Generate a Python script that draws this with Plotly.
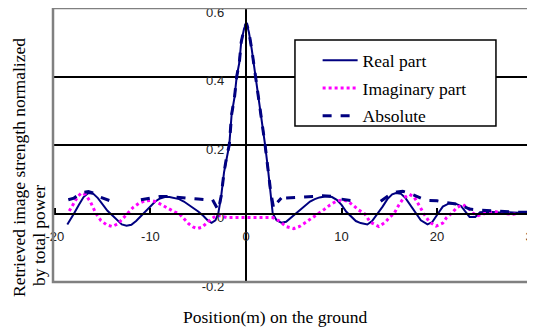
import plotly.graph_objects as go

# ---- data ----
real_x = [-18.7, -18.3, -18.0, -17.5, -17.0, -16.5, -16.0, -15.5, -15.0, -14.5, -14.0, -13.5, -13.0, -12.5,
          -12.0, -11.5, -11.0, -10.5, -10.0, -9.5, -9.0, -8.5, -8.0, -7.5, -7.0, -6.5, -6.0, -5.5, -5.0,
          -4.5, -4.0, -3.6, -3.2, -2.9, -2.6, -2.3, -2.0, -1.75, -1.5, -1.2, -0.97, -0.7, -0.5, -0.2,
          0.05, 0.3, 0.6, 0.85, 1.05, 1.3, 1.6, 2.0, 2.3, 2.6, 2.8, 3.2, 3.7, 4.2, 4.7, 5.2, 5.7, 6.2,
          6.7, 7.2, 7.7, 8.4, 9.0, 9.5, 10.0, 10.5, 11.0, 11.5, 12.0, 12.7, 13.2, 13.8, 14.3, 14.8, 15.3,
          15.7, 16.2, 16.7, 17.2, 17.8, 18.3, 19.0, 19.5, 20.1, 20.6, 21.3, 22.0, 22.5, 23.0, 23.4, 24.0,
          24.5, 25.5, 26.5, 27.5, 28.5, 29.5, 30.0]
real_y = [-0.032, -0.015, 0.0, 0.025, 0.048, 0.060, 0.058, 0.045, 0.025, 0.008, -0.005, -0.02, -0.032, -0.036,
          -0.033, -0.022, -0.008, 0.008, 0.022, 0.035, 0.044, 0.048, 0.048, 0.046, 0.042, 0.035, 0.026, 0.016, 0.006,
          -0.006, -0.02, -0.027, -0.02, 0.0, 0.05, 0.12, 0.17, 0.20, 0.29, 0.34, 0.40, 0.44, 0.50, 0.54,
          0.556, 0.53, 0.48, 0.43, 0.40, 0.34, 0.28, 0.20, 0.13, 0.06, 0.0, -0.02, -0.027, -0.024, -0.012, 0.0, 0.012, 0.025,
          0.035, 0.042, 0.047, 0.05, 0.048, 0.04, 0.025, 0.005, -0.01, -0.022, -0.028, -0.032, -0.022, 0.0, 0.02, 0.042, 0.056,
          0.06, 0.058, 0.045, 0.025, 0.0, -0.02, -0.032, -0.025, 0.0, 0.02, 0.03, 0.028, 0.022, 0.005, -0.01, -0.01,
          0.004, 0.005, 0.003, 0.004, 0.002, 0.003, 0.003]

imag_x = [-18.5, -18.0, -17.6, -17.2, -16.8, -16.3, -15.7, -15.2, -14.6, -14.0, -13.4, -12.9, -12.4, -11.8,
          -11.2, -10.6, -10.0, -9.5, -9.0, -8.5, -8.0, -7.5, -7.0, -6.5, -6.0, -5.5, -5.1, -4.6, -4.1, -3.6,
          -3.0, -2.5, -2.0, -1.0, 0.0, 1.0, 2.0, 2.8, 3.5, 4.2, 5.0, 5.6, 6.3, 7.0, 7.6, 8.2, 8.8, 9.4, 10.1,
          10.7, 11.3, 11.8, 12.4, 13.0, 13.9, 14.6, 15.0, 15.5, 16.0, 16.5, 17.1, 17.6, 18.1, 18.6, 19.2, 19.9,
          20.6, 21.0, 21.5, 22.1, 22.7, 23.3, 23.8, 24.3, 25.0, 26.0, 27.0, 28.0, 29.0, 30.0]
imag_y = [0.007, 0.03, 0.05, 0.06, 0.055, 0.035, 0.0, -0.02, -0.033, -0.038, -0.03, -0.015, 0.0, 0.018,
          0.03, 0.037, 0.038, 0.035, 0.028, 0.02, 0.012, 0.005, 0.0, -0.015, -0.03, -0.04, -0.044, -0.04, -0.028, -0.015,
          -0.005, -0.008, -0.012, -0.012, -0.012, -0.014, -0.012, -0.012, -0.022, -0.038, -0.044, -0.038, -0.025, -0.012, 0.0, 0.012, 0.025, 0.035, 0.04,
          0.035, 0.022, 0.01, 0.0, -0.025, -0.038, -0.025, -0.012, 0.0, 0.025, 0.045, 0.056, 0.048, 0.025, 0.0, -0.025, -0.037,
          -0.028, -0.012, 0.0, 0.018, 0.026, 0.015, 0.0, -0.006, 0.0, 0.006, 0.0, -0.002, 0.002, 0.0]

abs_x = [-18.6, -18.0, -17.5, -17.0, -16.5, -16.0, -15.5, -15.0, -14.5, -14.1, -12.5,
         -11.0, -10.5, -10.0, -9.0, -8.0, -7.5, -7.0, -6.0, -5.0, -4.2, -3.8,
         -3.5, -3.1, -2.9, -2.6, -2.3, -2.0, -1.75, -1.5, -1.2, -0.97, -0.7, -0.5, -0.2,
         0.05, 0.3, 0.6, 0.85, 1.05, 1.3, 1.6, 2.0, 2.3, 2.6, 2.9, 3.2, 3.7, 3.95,
         4.2, 5.0, 6.0, 7.0, 8.0, 9.0, 9.4, 9.7, 10.0, 11.0, 12.5,
         14.1, 14.6, 15.2, 15.8, 16.4, 17.0, 17.6, 18.3, 18.7,
         19.2, 20.0, 20.7, 21.3, 22.0, 22.8, 23.4, 24.5, 25.5, 26.5, 27.5, 28.5, 29.5, 30.0]
abs_y = [0.04, 0.045, 0.055, 0.062, 0.064, 0.06, 0.05, 0.045, 0.042, 0.036, None,
         0.04, 0.042, 0.046, 0.05, 0.05, 0.048, 0.046, 0.044, 0.042, 0.04, None,
         0.04, 0.02, 0.01, 0.05, 0.12, 0.17, 0.20, 0.29, 0.34, 0.40, 0.44, 0.50, 0.54,
         0.556, 0.53, 0.48, 0.43, 0.40, 0.34, 0.28, 0.20, 0.13, 0.06, 0.015, 0.03, 0.045, None,
         0.045, 0.046, 0.048, 0.05, 0.052, 0.05, 0.046, None, 0.042, 0.038, None,
         0.036, 0.045, 0.058, 0.063, 0.065, 0.06, 0.052, 0.045, None,
         0.038, 0.037, 0.033, 0.03, 0.028, 0.02, 0.013, 0.01, 0.008, 0.006, 0.005, 0.004, 0.004, 0.005]

x_ticks = [-20, -10, 0, 10, 20, 30]
y_ticks = [-0.2, 0, 0.2, 0.4, 0.6]

SERIF = "Liberation Serif, Times New Roman, serif"
SANS = "Liberation Sans, Arial, sans-serif"

fig = go.Figure()
fig.add_trace(go.Scatter(x=real_x, y=real_y, mode="lines", name="Real part", legendgroup="a",
                         line=dict(color="#000080", width=2)))
fig.add_trace(go.Scatter(x=imag_x, y=imag_y, mode="lines", name="Imaginary part", legendgroup="b",
                         line=dict(color="#FF00FF", width=3, dash="dot")))
fig.add_trace(go.Scatter(x=abs_x, y=abs_y, mode="lines", name="Absolute", legendgroup="c",
                         connectgaps=False,
                         line=dict(color="#000080", width=3, dash="dash")))

fig.update_layout(
    width=527, height=322,
    margin=dict(l=45, r=0, t=0, b=48),
    paper_bgcolor="white", plot_bgcolor="white",
    showlegend=True,
    legend=dict(x=0.549, y=0.875, xanchor="left", yanchor="top",
                bgcolor="rgba(0,0,0,0)", borderwidth=0,
                font=dict(family=SERIF, size=17.5, color="black"),
                itemwidth=35, tracegroupgap=2),
    xaxis=dict(range=[-20.2, 30.25], anchor="free", position=0.25, automargin=False,
               tickvals=x_ticks, ticktext=[str(v) for v in x_ticks],
               showgrid=False, zeroline=False,
               showline=True, linecolor="black", linewidth=2,
               ticks="inside", ticklen=5, tickcolor="black", tickwidth=2,
               ticklabelstandoff=11, ticklabeloverflow="allow",
               tickfont=dict(family=SANS, size=13, color="#222")),
    yaxis=dict(range=[-0.2, 0.6], anchor="free", position=0.4, automargin=False,
               tickvals=y_ticks, ticktext=["-0.2", "0", "0.2", "0.4", "0.6"],
               showgrid=True, gridcolor="black", gridwidth=1.5, zeroline=False,
               showline=True, linecolor="black", linewidth=2,
               ticks="inside", ticklen=5, tickcolor="black", tickwidth=2,
               ticklabelstandoff=18, ticklabelshift=4, ticklabeloverflow="allow",
               tickfont=dict(family=SANS, size=13, color="#222")),
    shapes=[
        dict(type="rect", xref="paper", yref="paper", x0=0, x1=1.03, y0=0, y1=1,
             line=dict(color="#808080", width=2.5), layer="above"),
        dict(type="rect", xref="paper", yref="paper", x0=0.502, x1=0.919, y0=0.569, y1=0.883,
             line=dict(color="black", width=1.5), fillcolor="white", layer="above"),
    ],
    annotations=[
        dict(text="Retrieved image strength normalized", xref="paper", yref="paper",
             x=-0.0705, y=0.416, xanchor="center", yanchor="middle", textangle=-90, showarrow=False,
             font=dict(family=SERIF, size=17.5, color="black")),
        dict(text="by total power", xref="paper", yref="paper",
             x=-0.029, y=0.168, xanchor="center", yanchor="middle", textangle=-90, showarrow=False,
             font=dict(family=SERIF, size=17.5, color="black")),
        dict(text="Position(m) on the ground", xref="paper", yref="paper",
             x=0.4606, y=-0.128, xanchor="center", yanchor="middle", showarrow=False,
             font=dict(family=SERIF, size=17.5, color="black")),
    ],
)

fig.write_html("out.html")
